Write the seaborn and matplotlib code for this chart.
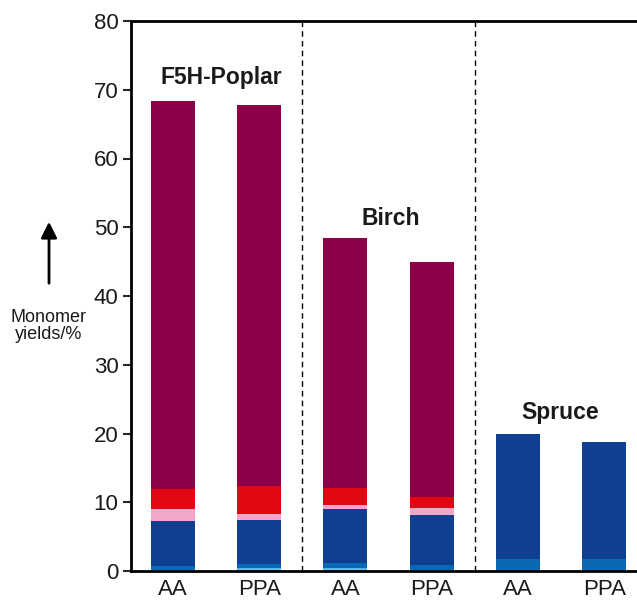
import numpy as np
import pandas as pd
import matplotlib
matplotlib.use("Agg")
import matplotlib.pyplot as plt
import seaborn as sns

# Data (monomer yields in %, stacked from the bottom up)
bars = ["Poplar AA", "Poplar PPA", "Birch AA", "Birch PPA", "Spruce AA", "Spruce PPA"]
bar_labels = ["AA", "PPA", "AA", "PPA", "AA", "PPA"]
light_blue = [0.2, 0.4, 0.5, 0.1, 0.0, 0.0]
mid_blue = [0.6, 0.6, 0.6, 0.75, 1.75, 1.75]
dark_blue = [6.5, 6.4, 7.9, 7.3, 18.25, 16.95]
pink = [1.7, 0.85, 0.55, 0.95, 0.0, 0.0]
red = [2.9, 4.15, 2.55, 1.7, 0.0, 0.0]
purple = [56.4, 55.4, 36.3, 34.1, 0.0, 0.0]

groups = ["F5H-Poplar", "Birch", "Spruce"]
group_label_x = [0.56, 2.52, 4.49]
group_label_y = [71.8, 51.3, 23.1]

segments = [light_blue, mid_blue, dark_blue, pink, red, purple]
colors = ["#5BB8E6", "#0A69B4", "#103F91", "#F2A7C9", "#E30613", "#8B0046"]

sns.set_style("white")
plt.rcParams["font.family"] = ["Liberation Sans", "DejaVu Sans"]

fig = plt.figure(figsize=(6.37, 6.0), dpi=100)
ax = fig.add_axes([131 / 637, 29 / 600, 506 / 637, 550 / 600])

# cumulative sums, drawn from the top segment down so each overlays the last
cum = np.cumsum(np.array(segments), axis=0)
for i in range(len(segments) - 1, -1, -1):
    df = pd.DataFrame({"bar": bars, "value": cum[i]})
    sns.barplot(data=df, x="bar", y="value", order=bars, color=colors[i],
                saturation=1, width=0.51, ax=ax, linewidth=0)

# group separators
for xpos in [1.5, 3.5]:
    ax.axvline(xpos, color="black", linestyle=(0, (4, 3)), linewidth=1)

# group names above the bars
for k, name in enumerate(groups):
    ax.text(group_label_x[k], group_label_y[k], name, ha="center", va="center",
            fontsize=16.5, fontweight="bold", color="#1a1a1a")

ax.set_xlim(-0.487, 5.38)
ax.set_ylim(0, 80)
ax.set_yticks(range(0, 81, 10))
ax.set_xticks(range(len(bars)))
ax.set_xticklabels(bar_labels)
ax.set_xlabel("")
ax.set_ylabel("")
ax.tick_params(axis="y", direction="out", length=6, width=1.5, labelsize=16,
               left=True, pad=3, labelcolor="#1a1a1a")
ax.tick_params(axis="x", length=0, labelsize=16, pad=6, labelcolor="#1a1a1a")

for side in ["left", "bottom", "top"]:
    ax.spines[side].set_linewidth(2)
    ax.spines[side].set_color("black")
ax.spines["right"].set_visible(False)

# y-axis label with arrow
fig.text(49 / 637, 1 - 326 / 600, "Monomer\nyields/%", ha="center", va="center",
         fontsize=13, linespacing=1.05, color="#1a1a1a")
fig.add_artist(matplotlib.patches.FancyArrowPatch(
    (49 / 637, 1 - 286 / 600), (49 / 637, 1 - 219 / 600),
    transform=fig.transFigure, arrowstyle="-|>", mutation_scale=24,
    color="black", linewidth=2))

fig.savefig("out.png", dpi=100)
